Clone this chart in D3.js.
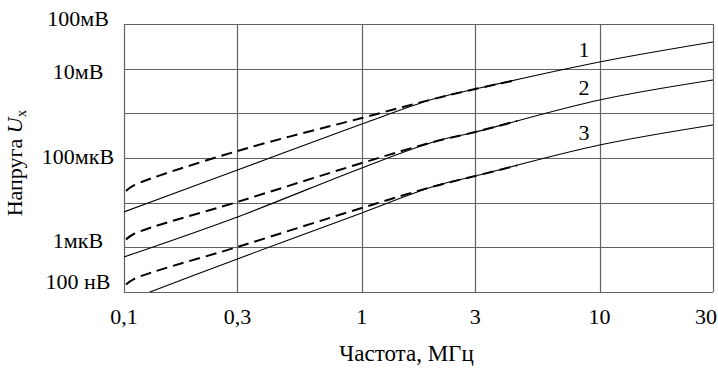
<!DOCTYPE html>
<html>
<head>
<meta charset="utf-8">
<script src="https://cdn.jsdelivr.net/npm/d3@7"></script>
<style>
  body { margin: 0; background: #fff; }
  text { font-family: 'Liberation Serif', 'Times New Roman', serif; fill: #000; }
</style>
</head>
<body>
<div id="chart"></div>
<script>
// frequencies, MHz
const solidFreq = [0.1, 0.3, 1, 2, 3, 10, 30];
const dashFreq = [0.102, 0.11, 0.3, 1, 2, 3, 4.5];

// voltage, uV
const solid1 = [6.2, 54, 577, 2090, 3500, 14100, 39500];
const solid2 = [0.61, 4.8, 60, 228, 382, 1990, 5570];
const solid3 = [0.06, 0.55, 5.9, 23, 39.5, 195, 548];

const dash1 = [18.3, 24.3, 143.5, 787, 2090, 3500, 5600];
const dash2 = [1.5, 1.99, 10.4, 77, 228, 382, 675];
const dash3 = [0.147, 0.195, 1.02, 7.6, 23, 39.5, 68];

const curveNames = ['1', '2', '3'];

const xTicks = [0.1, 0.3, 1, 3, 10, 30];
const xTickLabels = ['0,1', '0,3', '1', '3', '10', '30'];
const yGrid = [100000, 10000, 1000, 100, 10, 1, 0.1];
const yTicks = [100000, 10000, 100, 1, 0.1];
const yTickLabels = ['100мВ', '10мВ', '100мкВ', '1мкВ', '100 нВ'];

const margin = { top: 24, right: 5, bottom: 80, left: 124 };
const width = 718 - margin.left - margin.right;
const height = 372 - margin.top - margin.bottom;
const gridColor = '#626262';
const fontSize = 22;

const svg = d3.select('#chart')
  .append('svg')
  .attr('width', 718)
  .attr('height', 372)
  .append('g')
  .attr('transform', 'translate(' + margin.left + ',' + margin.top + ')');

const x = d3.scaleLog()
  .domain([0.1, 30])
  .range([0, width]);

const y = d3.scaleLog()
  .domain([0.1, 100000])
  .range([height, 0]);

const px = v => Math.round(v) + 0.5;

// grid
svg.append('g')
  .selectAll('line')
  .data(yGrid)
  .join('line')
  .attr('x1', 0)
  .attr('x2', width)
  .attr('y1', d => px(y(d)))
  .attr('y2', d => px(y(d)))
  .attr('stroke', gridColor)
  .attr('stroke-width', 1.2);

svg.append('g')
  .selectAll('line')
  .data(xTicks)
  .join('line')
  .attr('x1', d => px(x(d)))
  .attr('x2', d => px(x(d)))
  .attr('y1', 0)
  .attr('y2', height)
  .attr('stroke', gridColor)
  .attr('stroke-width', 1.2);

// tick labels
svg.append('g')
  .selectAll('text')
  .data(xTicks)
  .join('text')
  .attr('x', (d, i) => x(d) - (i === xTicks.length - 1 ? 7 : 0))
  .attr('y', height + 32)
  .attr('text-anchor', 'middle')
  .attr('font-size', fontSize)
  .text((d, i) => xTickLabels[i]);

const yLabelShift = [-6, 3, -2, -7, -11];
svg.append('g')
  .selectAll('text')
  .data(yTicks)
  .join('text')
  .attr('x', -46)
  .attr('y', (d, i) => y(d) + yLabelShift[i])
  .attr('dy', '0.35em')
  .attr('text-anchor', 'middle')
  .attr('font-size', fontSize)
  .text((d, i) => yTickLabels[i]);

// axis titles
svg.append('text')
  .attr('x', width / 2 - 12)
  .attr('y', height + 69)
  .attr('text-anchor', 'middle')
  .attr('font-size', 23)
  .text('Частота, МГц');

const yTitle = svg.append('text')
  .attr('transform', 'translate(' + (-102) + ',' + (height / 2 + 5) + ') rotate(-90)')
  .attr('text-anchor', 'middle')
  .attr('font-size', fontSize);
yTitle.append('tspan').text('Напруга ');
yTitle.append('tspan').attr('font-style', 'italic').text('U');
yTitle.append('tspan').attr('font-size', 15).attr('dy', 4).text('x');

// curves
svg.append('clipPath')
  .attr('id', 'plot-clip')
  .append('rect')
  .attr('width', width)
  .attr('height', height);

const line = d3.line()
  .curve(d3.curveCatmullRom.alpha(0.5))
  .x(d => x(d[0]))
  .y(d => y(d[1]));

const curves = svg.append('g').attr('clip-path', 'url(#plot-clip)');

[solid1, solid2, solid3].forEach(vals => {
  curves.append('path')
    .datum(solidFreq.map((f, i) => [f, vals[i]]))
    .attr('fill', 'none')
    .attr('stroke', '#000')
    .attr('stroke-width', 1.1)
    .attr('d', line);
});

[dash1, dash2, dash3].forEach(vals => {
  curves.append('path')
    .datum(dashFreq.map((f, i) => [f, vals[i]]))
    .attr('fill', 'none')
    .attr('stroke', '#000')
    .attr('stroke-width', 2)
    .attr('stroke-dasharray', '11 6')
    .attr('d', line);
});

// curve numbers
svg.append('g')
  .selectAll('text')
  .data([solid1, solid2, solid3])
  .join('text')
  .attr('x', x(10) - 10)
  .attr('y', d => y(d[5]) - 5)
  .attr('text-anchor', 'end')
  .attr('font-size', fontSize)
  .text((d, i) => curveNames[i]);
</script>
</body>
</html>
